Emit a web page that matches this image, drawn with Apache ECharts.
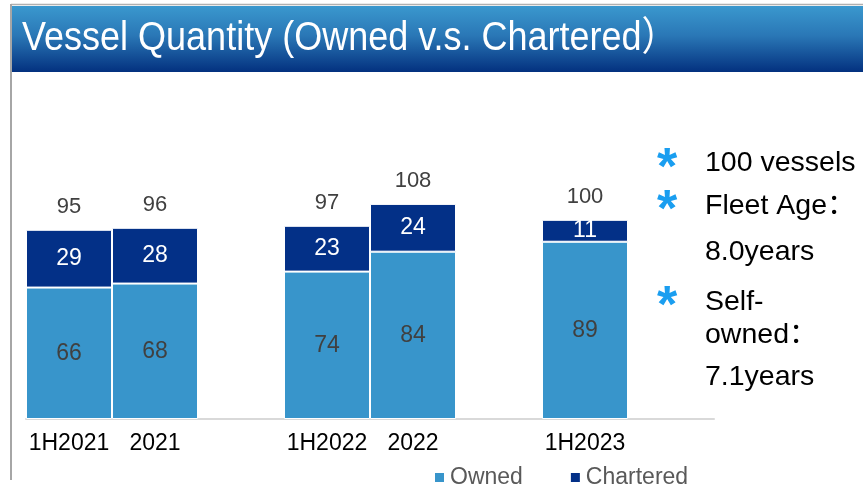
<!DOCTYPE html>
<html><head><meta charset="utf-8">
<script src="https://cdn.jsdelivr.net/npm/echarts@6/dist/echarts.min.js"></script>
<style>html,body{margin:0;padding:0;background:#fff}#c{width:863px;height:489px}</style>
</head><body><div id="c"></div>
<script>
const categories = ['1H2021', '2021', '', '1H2022', '2022', '', '1H2023', ''];
const owned = [66, 68, '-', 74, 84, '-', 89, '-'];
const chartered = [29, 28, '-', 23, 24, '-', 11, '-'];
const totals = [95, 96, '-', 97, 108, '-', 100, '-'];
const sideLines = ['100 vessels', 'Fleet Age：', '8.0years', 'Self-', 'owned：', '7.1years'];
const titleText = 'Vessel Quantity (Owned v.s. Chartered）';

const FONT = "'Liberation Sans', Arial, 'Noto Sans CJK SC', sans-serif";
const chart = echarts.init(document.getElementById('c'), null, {renderer: 'canvas'});

const lineBaselines = [171, 214, 260, 310, 343, 385];
const starCenters = [160, 202, 298];
const graphics = [
  {type: 'rect', shape: {x: 12, y: 6, width: 851, height: 66},
   style: {fill: new echarts.graphic.LinearGradient(0, 0, 0, 1, [
     {offset: 0, color: '#3a98ce'}, {offset: 0.45, color: '#2a77b6'}, {offset: 1, color: '#03317f'}])}},
  {type: 'line', shape: {x1: 11, y1: 4.5, x2: 863, y2: 4.5}, style: {stroke: '#b0b0b0', lineWidth: 1.5}},
  {type: 'line', shape: {x1: 11, y1: 4, x2: 11, y2: 480}, style: {stroke: '#a6a6a6', lineWidth: 2}},
  {type: 'text', x: 22, y: 39, scaleX: 0.9, originX: 0,
   style: {text: titleText, fill: '#ffffff', font: '40px ' + FONT, verticalAlign: 'middle'}}
];
sideLines.forEach((t, i) => {
  graphics.push({type: 'text', x: 705, y: lineBaselines[i] - 8,
    style: {text: t, fill: '#000000', font: '28.5px ' + FONT, verticalAlign: 'middle'}});
});
starCenters.forEach(y => {
  graphics.push({type: 'text', x: 667, y: y + 10,
    style: {text: '*', fill: '#1a9ef0', font: 'bold 52px ' + FONT, align: 'center', verticalAlign: 'middle'}});
});

chart.setOption({
  animation: false,
  textStyle: {fontFamily: FONT},
  grid: {left: 26, right: 149, top: 180, bottom: 70, containLabel: false},
  legend: {
    data: ['Owned', 'Chartered'], left: 428, top: 461, icon: 'rect',
    itemWidth: 11, itemHeight: 11, itemGap: 46,
    textStyle: {color: '#595959', fontSize: 23, fontFamily: FONT}
  },
  xAxis: {
    type: 'category', data: categories,
    axisLine: {lineStyle: {color: '#d9d9d9', width: 2}},
    axisTick: {show: false},
    axisLabel: {color: '#000', fontSize: 23, margin: 13, interval: 0, fontFamily: FONT}
  },
  yAxis: {type: 'value', min: 0, max: 120, show: false, splitLine: {show: false}},
  series: [
    {name: 'Owned', type: 'bar', stack: 'v', data: owned, barCategoryGap: '0%',
     itemStyle: {color: '#3895cb', borderColor: '#ffffff', borderWidth: 1},
     label: {show: true, position: 'inside', color: '#404040', fontSize: 23, fontFamily: FONT}},
    {name: 'Chartered', type: 'bar', stack: 'v', data: chartered,
     itemStyle: {color: '#033087', borderColor: '#ffffff', borderWidth: 1},
     label: {show: true, position: 'inside', color: '#ffffff', fontSize: 23, fontFamily: FONT}},
    {name: 'Total', type: 'bar', data: totals, barGap: '-100%', z: 1, silent: true,
     itemStyle: {color: 'rgba(0,0,0,0)'},
     label: {show: true, position: 'top', distance: 12, color: '#404040', fontSize: 22, fontFamily: FONT}}
  ],
  graphic: graphics
});
</script></body></html>
